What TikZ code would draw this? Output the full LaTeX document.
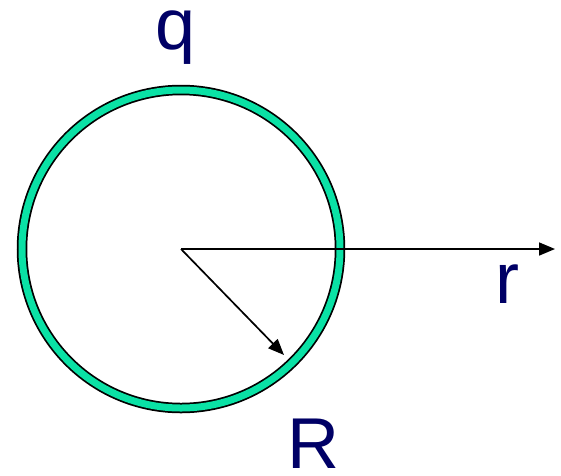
\documentclass[tikz,border=0pt]{standalone}
\usepackage{fontspec}
\setmainfont{Liberation Sans}
\usetikzlibrary{arrows.meta}
\definecolor{navy}{RGB}{0,0,102}
\definecolor{ringteal}{RGB}{10,225,165}
\tikzset{
  lbl/.style={text=navy, font=\fontsize{72}{72}\selectfont, inner sep=0pt, anchor=base},
  vec/.style={line width=1.7pt, -{Triangle[length=16pt,width=13pt]}},
}
\begin{document}
\begin{tikzpicture}[x=1pt,y=-1pt]
\useasboundingbox[fill=white] (0,0) rectangle (561,475);
\coordinate (c) at (181,249);
\coordinate (rend) at (555,249);
\coordinate (Rend) at (284,355);
% ring
\draw[line width=10.5pt, black] (c) circle (159);
\draw[line width=7pt, ringteal] (c) circle (159);
% arrows
\draw[vec] (c) -- (rend);
\draw[vec] (c) -- (Rend);
% labels
\node[lbl] (q) at (176,49) {q};
\node[lbl] (r) at (507,303) {r};
\node[lbl] (R) at (313,468) {R};
\end{tikzpicture}
\end{document}
